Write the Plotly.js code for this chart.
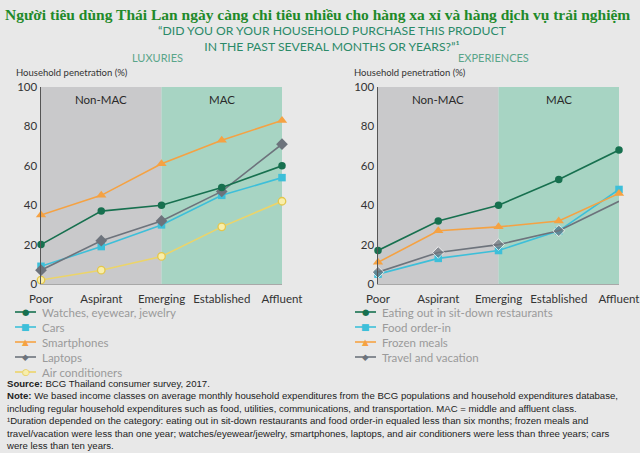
<!DOCTYPE html>
<html>
<head>
<meta charset="utf-8">
<script src="https://cdn.plot.ly/plotly-3.0.1.min.js"></script>
<style>html,body{margin:0;padding:0;background:#e8e8e8;}#chart{width:640px;height:453px;}</style>
</head>
<body>
<div id="chart"></div>
<script>
// ---- Data ----
const classes = ['Poor', 'Aspirant', 'Emerging', 'Established', 'Affluent'];
const yTicks = [0, 20, 40, 60, 80, 100];

// Luxuries
const watches = [20, 37, 40, 49, 60];
const cars = [9, 19, 30, 45, 54];
const smartphones = [35, 45, 61, 73, 83];
const laptops = [7, 22, 32, 47, 71];
const airConditioners = [2, 7, 14, 29, 42];

// Experiences
const eatingOut = [17, 32, 40, 53, 68];
const foodOrderIn = [5, 13, 17, 27, 48];
const frozenMeals = [11, 27, 29, 32, 46];
const travel = [6, 16, 20, 27, 42];

const luxuryNames = ['Watches, eyewear, jewelry', 'Cars', 'Smartphones', 'Laptops', 'Air conditioners'];
const experienceNames = ['Eating out in sit-down restaurants', 'Food order-in', 'Frozen meals', 'Travel and vacation'];

// ---- Styles ----
const W = 640, H = 453;
const C = {
  green: '#17704f', cyan: '#3dbfd9', orange: '#f5a243', gray: '#6d737c',
  yellow: '#ecd469', yellowFill: '#f8eeaa', yellowEdge: '#e3c64c'
};
const xIdx = classes.map((_, i) => i);
const py = p => 1 - p / H;
const px = p => p / W;

function tr(y, name, color, symbol, xa, ya, extra) {
  const t = {
    x: xIdx, y: y, name: name, type: 'scatter', mode: 'lines+markers',
    xaxis: xa, yaxis: ya, cliponaxis: false, showlegend: false,
    line: {color: color, width: 1.6},
    marker: {color: color, symbol: symbol, size: 7.5, line: {width: 0}}
  };
  return Object.assign(t, extra || {});
}

const traces = [
  tr(airConditioners, luxuryNames[4], C.yellow, 'circle', 'x', 'y',
     {marker: {color: C.yellowFill, symbol: 'circle', size: 7.5, line: {color: C.yellowEdge, width: 1.3}}}),
  tr(cars, luxuryNames[1], C.cyan, 'square', 'x', 'y'),
  tr(laptops, luxuryNames[3], C.gray, 'diamond', 'x', 'y', {marker: {color: C.gray, symbol: 'diamond', size: 9}}),
  tr(watches, luxuryNames[0], C.green, 'circle', 'x', 'y'),
  tr(smartphones, luxuryNames[2], C.orange, 'triangle-up', 'x', 'y', {marker: {color: C.orange, symbol: 'triangle-up', size: 9}}),

  tr(foodOrderIn, experienceNames[1], C.cyan, 'square', 'x2', 'y2'),
  tr(travel, experienceNames[3], C.gray, 'diamond', 'x2', 'y2', {marker: {color: C.gray, symbol: 'diamond', size: [9, 9, 9, 9, 0]}}),
  tr(frozenMeals, experienceNames[2], C.orange, 'triangle-up', 'x2', 'y2', {marker: {color: C.orange, symbol: 'triangle-up', size: 9}}),
  tr(eatingOut, experienceNames[0], C.green, 'circle', 'x2', 'y2')
];

const tickFont = {family: 'Lato, "Liberation Sans", sans-serif', size: 11.5, color: '#333'};
function xAxis(domain, anchor) {
  return {domain: domain, anchor: anchor, range: [0, 4], tickvals: xIdx, ticktext: classes,
    showgrid: false, zeroline: false, showline: true, linecolor: '#a8a8a8', linewidth: 1,
    ticks: '', ticklabelstandoff: 4, tickfont: tickFont, fixedrange: true};
}
function yAxis(domain, anchor) {
  return {domain: domain, anchor: anchor, range: [0, 100], tickvals: yTicks,
    showgrid: false, zeroline: false, showline: true, linecolor: '#555', linewidth: 1.5,
    ticks: '', tickfont: tickFont, fixedrange: true};
}
const yDom = [py(284), py(87)];

const shapes = [];
[['x', 'y'], ['x2', 'y2']].forEach(([xa, ya]) => {
  shapes.push({type: 'rect', xref: xa, yref: ya, x0: 0, x1: 2, y0: 0, y1: 100, fillcolor: '#c9c9cb', line: {width: 0}, layer: 'below'});
  shapes.push({type: 'rect', xref: xa, yref: ya, x0: 2, x1: 4, y0: 0, y1: 100, fillcolor: '#a7d4c3', line: {width: 0}, layer: 'below'});
});

const annotations = [];
function txt(x, y, text, font, xanchor, extra) {
  annotations.push(Object.assign({xref: 'paper', yref: 'paper', x: px(x), y: py(y), text: text,
    showarrow: false, xanchor: xanchor || 'left', yanchor: 'middle', font: font, align: 'left'}, extra || {}));
}

// Titles
txt(3, 14, 'Người tiêu dùng Thái Lan ngày càng chi tiêu nhiều cho hàng xa xỉ và hàng dịch vụ trải nghiệm',
  {family: '"Liberation Serif", "DejaVu Serif", serif', size: 15.5, color: '#1f8a2a', weight: 'bold'});
txt(332, 38.5, '“DID YOU OR YOUR HOUSEHOLD PURCHASE THIS PRODUCT<br>IN THE PAST SEVERAL MONTHS OR YEARS?”¹',
  {family: 'Lato, "Liberation Sans", sans-serif', size: 12.2, color: '#2b8a68'}, 'center', {align: 'center'});
txt(157, 57.5, 'LUXURIES', {family: 'Lato, "Liberation Sans", sans-serif', size: 11, color: '#5aa58a'}, 'center');
txt(493, 57.5, 'EXPERIENCES', {family: 'Lato, "Liberation Sans", sans-serif', size: 11, color: '#5aa58a'}, 'center');
const axTitleFont = {family: 'Lato, "Liberation Sans", sans-serif', size: 9.5, color: '#333'};
txt(14, 72, 'Household penetration (%)', axTitleFont);
txt(352, 72, 'Household penetration (%)', axTitleFont);

// Non-MAC / MAC labels
const regionFont = {family: 'Lato, "Liberation Sans", sans-serif', size: 11.5, color: '#2a2a2a'};
[['x', 'y'], ['x2', 'y2']].forEach(([xa, ya]) => {
  annotations.push({xref: xa, yref: ya, x: 1, y: 93.5, text: 'Non-MAC', showarrow: false, font: regionFont});
  annotations.push({xref: xa, yref: ya, x: 3, y: 93.5, text: 'MAC', showarrow: false, font: regionFont});
});

// Custom legends
const legFont = {family: 'Lato, "Liberation Sans", sans-serif', size: 11.5, color: '#9a9a9a'};
const glyph = {circle: '●', square: '■', 'triangle-up': '▲', diamond: '◆'};
function legendItem(x0, y, name, color, sym, glyphColor, ring) {
  shapes.push({type: 'line', xref: 'paper', yref: 'paper', x0: px(x0), x1: px(x0 + 21), y0: py(y), y1: py(y),
    line: {color: color, width: 1.6}});
  txt(x0 + 10.5, y, glyph[sym], {family: '"DejaVu Sans", sans-serif', size: sym === 'square' ? 9 : 8.5, color: glyphColor || color}, 'center');
  if (ring) txt(x0 + 10.5, y, '○', {family: '"DejaVu Sans", sans-serif', size: 9, color: ring}, 'center');
  txt(x0 + 25, y, name, legFont);
}
const lx = 15, rx = 355;
legendItem(lx, 312, luxuryNames[0], C.green, 'circle');
legendItem(lx, 327, luxuryNames[1], C.cyan, 'square');
legendItem(lx, 342, luxuryNames[2], C.orange, 'triangle-up');
legendItem(lx, 357, luxuryNames[3], C.gray, 'diamond');
legendItem(lx, 372, luxuryNames[4], C.yellow, 'circle', C.yellowFill, C.yellowEdge);
legendItem(rx, 312, experienceNames[0], C.green, 'circle');
legendItem(rx, 327, experienceNames[1], C.cyan, 'square');
legendItem(rx, 342, experienceNames[2], C.orange, 'triangle-up');
legendItem(rx, 357, experienceNames[3], C.gray, 'diamond');

// Footnotes
const noteFont = {family: '"Liberation Sans", Arial, sans-serif', size: 9.6, color: '#222'};
const notes = [
  '<b>Source:</b> BCG Thailand consumer survey, 2017.',
  '<b>Note:</b> We based income classes on average monthly household expenditures from the BCG populations and household expenditures database,',
  'including regular household expenditures such as food, utilities, communications, and transportation. MAC = middle and affluent class.',
  '¹Duration depended on the category: eating out in sit-down restaurants and food order-in equaled less than six months; frozen meals and',
  'travel/vacation were less than one year; watches/eyewear/jewelry, smartphones, laptops, and air conditioners were less than three years; cars',
  'were less than ten years.'
];
txt(5, 376.5, notes.join('<br>'), noteFont, 'left', {yanchor: 'top', borderpad: 0});

const layout = {
  width: W, height: H, margin: {l: 0, r: 0, t: 0, b: 0},
  paper_bgcolor: '#e8e8e8', plot_bgcolor: 'rgba(0,0,0,0)',
  showlegend: false,
  xaxis: xAxis([px(41), px(282)], 'y'),
  yaxis: yAxis(yDom, 'x'),
  xaxis2: xAxis([px(378), px(619)], 'y2'),
  yaxis2: yAxis(yDom, 'x2'),
  shapes: shapes, annotations: annotations,
  font: {family: 'Lato, "Liberation Sans", sans-serif'}
};

Plotly.newPlot('chart', traces, layout, {displayModeBar: false, staticPlot: true});
</script>
</body>
</html>
